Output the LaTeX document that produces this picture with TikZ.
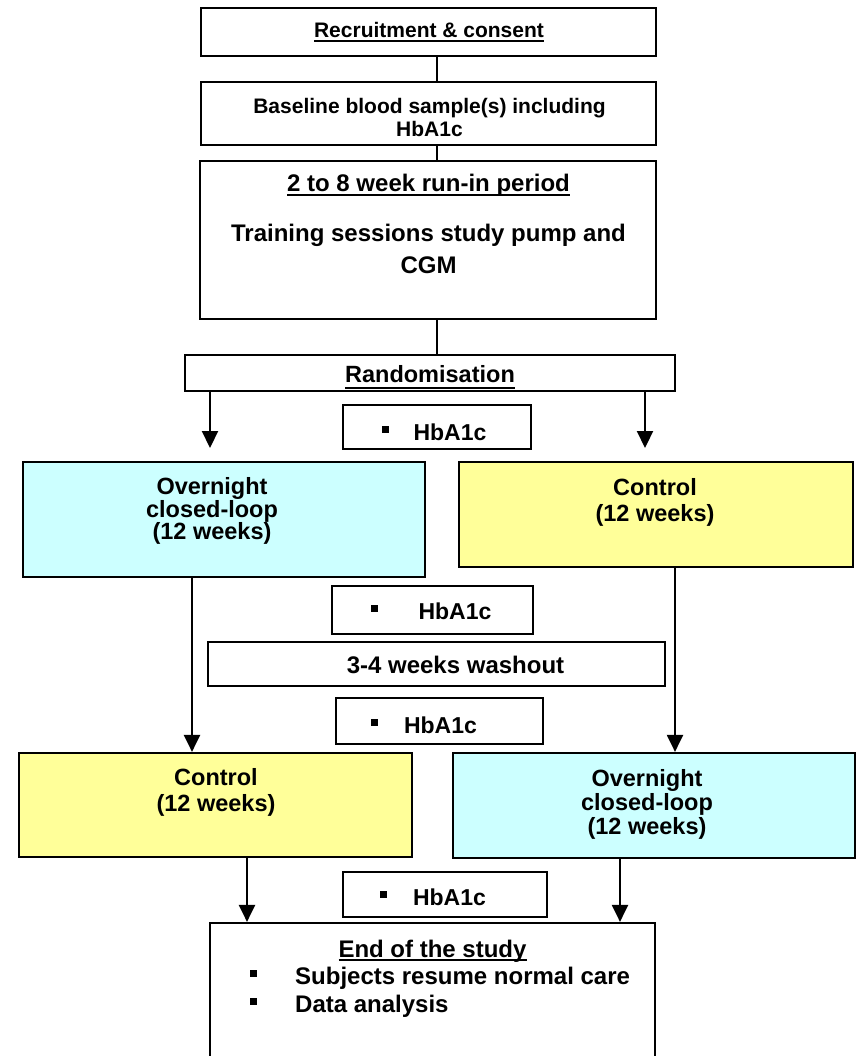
\documentclass[tikz,border=0pt]{standalone}
\usepackage{fontspec}
\setmainfont{Liberation Sans}
\usetikzlibrary{positioning}
\usetikzlibrary{arrows.meta}

\definecolor{loopcyan}{HTML}{CCFFFF}
\definecolor{ctrlyellow}{HTML}{FFFF99}

\newcommand{\sqb}{\rule[7pt]{7pt}{7.5pt}}
\newcommand{\undl}[2][4pt]{\setbox0=\hbox{#2}\rlap{\rule[-#1]{\wd0}{1.8pt}}\box0}

\begin{document}
\begin{tikzpicture}[x=1pt,y=-1pt]
	\tikzstyle{box} = [draw,line width=2.2pt,rectangle,inner sep=0pt]
	\tikzstyle{loop} = [box,fill=loopcyan]
	\tikzstyle{ctrl} = [box,fill=ctrlyellow]
	\tikzstyle{txt} = [inner sep=0pt,align=center,font=\bfseries\fontsize{23.5}{26}\selectfont]
	\tikzstyle{link} = [line width=2.2pt]
	\tikzstyle{flow} = [line width=2.2pt,-{Triangle[width=16pt,length=17pt]}]

	\useasboundingbox (0,0) rectangle (863,1056);

	% boxes
	\node[box,minimum width=455pt,minimum height=48pt] at (428.5,32) (recruit) {};
	\node[box,minimum width=455pt,minimum height=63pt] at (428.5,113.5) (baseline) {};
	\node[box,minimum width=456pt,minimum height=158pt] at (428,240) (runin) {};
	\node[box,minimum width=490pt,minimum height=36pt] at (430,373) (rand) {};
	\node[box,minimum width=188pt,minimum height=44pt] at (437,427) (hb1) {};
	\node[loop,minimum width=402pt,minimum height=115pt] at (224,519.5) (loopA) {};
	\node[ctrl,minimum width=394pt,minimum height=105pt] at (656,514.5) (ctrlA) {};
	\node[box,minimum width=201pt,minimum height=48pt] at (432.5,610) (hb2) {};
	\node[box,minimum width=457pt,minimum height=44pt] at (436.5,664) (wash) {};
	\node[box,minimum width=207pt,minimum height=46pt] at (439.5,721) (hb3) {};
	\node[ctrl,minimum width=393pt,minimum height=104pt] at (215.5,805) (ctrlB) {};
	\node[loop,minimum width=402pt,minimum height=105pt] at (654,805.5) (loopB) {};
	\node[box,minimum width=204pt,minimum height=45pt] at (445,894.5) (hb4) {};
	\node[box,minimum width=445pt,minimum height=146pt] at (432.5,996) (end) {};

	% texts
	\node[txt,anchor=base,font=\bfseries\fontsize{21}{23}\selectfont] at (429,38) (recruitT) {\undl{Recruitment \& consent}};
	\node[txt,font=\bfseries\fontsize{21}{23}\selectfont] at (429.5,117) (baselineT) {Baseline blood sample(s) including\\HbA1c};
	\node[txt,anchor=base,font=\bfseries\fontsize{24}{30}\selectfont] at (428.5,192) (runinH) {\undl{2 to 8 week run-in period}};
	\node[txt,font=\bfseries\fontsize{24}{32}\selectfont] at (428.5,249) (runinT) {Training sessions study pump and\\CGM};
	\node[txt,anchor=base] at (430,382) (randT) {\undl[7pt]{Randomisation}};
	\node[txt,anchor=base,font=\bfseries\fontsize{23}{26}\selectfont] at (434,440) (hb1T) {\sqb\hspace{25pt}HbA1c};
	\node[txt,font=\bfseries\fontsize{23.5}{22}\selectfont] at (212,511) (loopAT) {Overnight\\closed-loop\\(12 weeks)};
	\node[txt] at (655,502) (ctrlAT) {Control\\(12 weeks)};
	\node[txt,anchor=base,font=\bfseries\fontsize{23}{26}\selectfont] at (431,619) (hb2T) {\sqb\hspace{41pt}HbA1c};
	\node[txt,anchor=base,font=\bfseries\fontsize{24}{26}\selectfont] at (455.5,673) (washT) {3-4 weeks washout};
	\node[txt,anchor=base,font=\bfseries\fontsize{23}{26}\selectfont] at (424,733) (hb3T) {\sqb\hspace{26pt}HbA1c};
	\node[txt] at (216,792.5) (ctrlBT) {Control\\(12 weeks)};
	\node[txt,font=\bfseries\fontsize{23.5}{24}\selectfont] at (647,804) (loopBT) {Overnight\\closed-loop\\(12 weeks)};
	\node[txt,anchor=base,font=\bfseries\fontsize{23}{26}\selectfont] at (433,905) (hb4T) {\sqb\hspace{26pt}HbA1c};
	\node[txt,anchor=base,font=\bfseries\fontsize{24}{26}\selectfont] at (432.5,957) (endH) {\undl[3.5pt]{End of the study}};
	\node[txt,anchor=base west,font=\bfseries\fontsize{24}{26}\selectfont] at (250,984) (endB1) {\sqb\hspace{38pt}Subjects resume normal care};
	\node[txt,anchor=base west,font=\bfseries\fontsize{24}{26}\selectfont] at (250,1012) (endB2) {\sqb\hspace{38pt}Data analysis};

	% free ends of the randomisation arrows
	\coordinate (armL) at (210,448);
	\coordinate (armR) at (645,448);

	\begin{scope}[link]
		\draw ([xshift=8.5pt]recruit.south) -- ([xshift=8.5pt]baseline.north);
		\draw ([xshift=8.5pt]baseline.south) -- ([xshift=9pt]runin.north);
		\draw ([xshift=9pt]runin.south) -- ([xshift=7pt]rand.north);
	\end{scope}

	\begin{scope}[flow]
		\draw (rand.south -| armL) -- (armL);
		\draw (rand.south -| armR) -- (armR);
		\draw ([xshift=-32pt]loopA.south) -- ([xshift=-23.5pt]ctrlB.north);
		\draw ([xshift=19pt]ctrlA.south) -- ([xshift=21pt]loopB.north);
		\draw ([xshift=31.5pt]ctrlB.south) -- ([xshift=-185.5pt]end.north);
		\draw ([xshift=-34pt]loopB.south) -- ([xshift=187.5pt]end.north);
	\end{scope}
\end{tikzpicture}
\end{document}
